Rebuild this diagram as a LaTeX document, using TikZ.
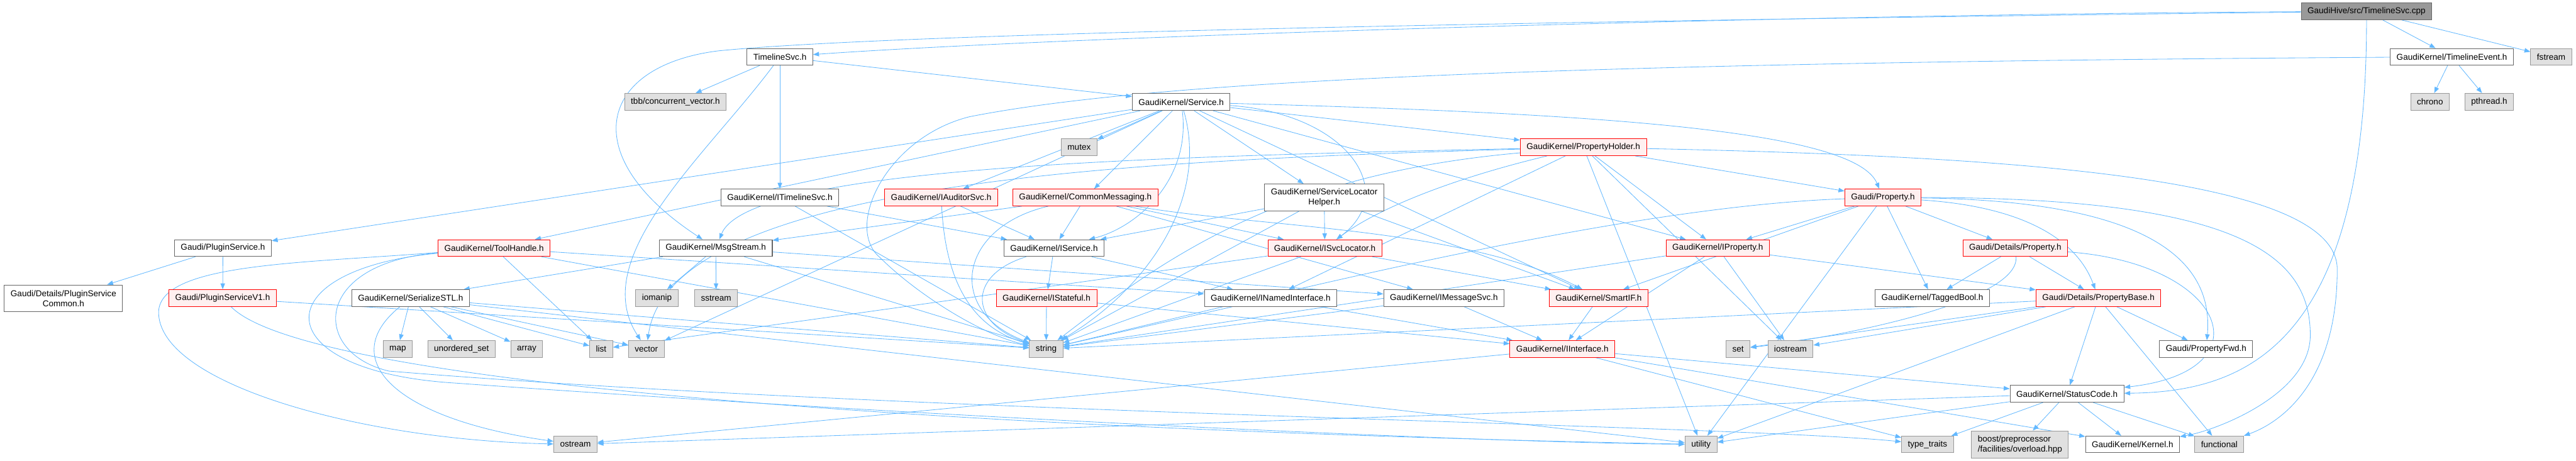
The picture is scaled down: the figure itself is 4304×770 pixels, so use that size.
\documentclass[tikz,border=0pt]{standalone}
\usepackage{fontspec}
\setmainfont{Liberation Sans}
\usepackage{tikz}
\usetikzlibrary{arrows.meta,backgrounds}
\definecolor{edgeblue}{HTML}{63B8FF}
\definecolor{truncred}{HTML}{FF0000}
\definecolor{truncfill}{HTML}{FFF0F0}
\definecolor{sysfill}{HTML}{E0E0E0}
\definecolor{sysdraw}{HTML}{999999}
\definecolor{srcfill}{HTML}{999999}
\definecolor{hdrdraw}{HTML}{666666}

\begin{document}
\begin{tikzpicture}[x=0.02cm, y=-0.02cm,
    font=\fontsize{8.1}{9.5}\selectfont,
    box/.style={draw=hdrdraw, fill=white, line width=0.6pt, minimum height=0.56cm, inner xsep=0.21cm, inner ysep=0pt},
    hdr/.style={box},
    trunc/.style={box, draw=truncred, fill=truncfill},
    sys/.style={box, draw=sysdraw, fill=sysfill},
    src/.style={box, fill=srcfill},
    twoline/.style={align=center, minimum height=0.9cm},
    dep/.style={draw=edgeblue, line width=0.5pt, -{Triangle[length=0.2cm, width=0.15cm]}}]
\useasboundingbox (0,0) rectangle (4304,770);

% top rows
\node[src] (cpp) at (3954,19) {GaudiHive/src/TimelineSvc.cpp};
\node[hdr] (tlevent) at (4096.5,95) {GaudiKernel/TimelineEvent.h};
\node[sys] (fstream) at (4262.5,95) {fstream};
\node[sys] (chrono) at (4060,170) {chrono};
\node[sys] (pthread) at (4159,170) {pthread.h};
\node[hdr] (tlsvc) at (1303,95) {TimelineSvc.h};
\node[sys] (tbb) at (1128.5,170) {tbb/concurrent\_vector.h};
\node[hdr] (svc) at (1973.5,170.5) {GaudiKernel/Service.h};
\node[sys] (mutex) at (1803,246) {mutex};
\node[trunc] (pholder) at (2645.5,246) {GaudiKernel/PropertyHolder.h};

\node[hdr] (itlsvc) at (1303,330) {GaudiKernel/ITimelineSvc.h};
\node[trunc] (iaud) at (1572.5,330) {GaudiKernel/IAuditorSvc.h};
\node[trunc] (cmsg) at (1813.5,330) {GaudiKernel/CommonMessaging.h};
\node[hdr, twoline] (slhelp) at (2212.5,330) {GaudiKernel/ServiceLocator\\Helper.h};
\node[trunc] (gprop) at (3146,330) {Gaudi/Property.h};

\node[hdr] (plugin) at (372.5,414.5) {Gaudi/PluginService.h};
\node[trunc] (toolh) at (825.5,414.5) {GaudiKernel/ToolHandle.h};
\node[hdr] (msg) at (1196,414.5) {GaudiKernel/MsgStream.h};
\node[hdr] (isvc) at (1761,414.5) {GaudiKernel/IService.h};
\node[trunc] (isvcloc) at (2213.5,414.5) {GaudiKernel/ISvcLocator.h};
\node[trunc] (iprop) at (2870,414.5) {GaudiKernel/IProperty.h};
\node[trunc] (detprop) at (3367,414.5) {Gaudi/Details/Property.h};

\node[hdr, twoline] (pcommon) at (106,498.5) {Gaudi/Details/PluginService\\Common.h};
\node[trunc] (pv1) at (372,498) {Gaudi/PluginServiceV1.h};
\node[hdr] (serial) at (686,498) {GaudiKernel/SerializeSTL.h};
\node[sys] (iomanip) at (1097.5,498) {iomanip};
\node[sys] (sstream) at (1196.5,498) {sstream};
\node[trunc] (istate) at (1748.5,498) {GaudiKernel/IStateful.h};
\node[hdr] (inamed) at (2123,498) {GaudiKernel/INamedInterface.h};
\node[hdr] (imsg) at (2412.5,498) {GaudiKernel/IMessageSvc.h};
\node[trunc] (smartif) at (2671,498) {GaudiKernel/SmartIF.h};
\node[hdr] (tbool) at (3228.5,498) {GaudiKernel/TaggedBool.h};
\node[trunc] (pbase) at (3506,498) {Gaudi/Details/PropertyBase.h};

% bottom rows
\node[sys] (map) at (664.5,583) {map};
\node[sys] (uset) at (771,583) {unordered\_set};
\node[sys] (array) at (880,583) {array};
\node[sys] (list) at (1004.5,583) {list};
\node[sys] (vector) at (1080,583) {vector};
\node[sys] (string) at (1748,583) {string};
\node[trunc] (iiface) at (2610.5,583) {GaudiKernel/IInterface.h};
\node[sys] (set) at (2904,583) {set};
\node[sys] (iostream) at (2991.5,583) {iostream};
\node[hdr] (pfwd) at (3686,583) {Gaudi/PropertyFwd.h};
\node[hdr] (status) at (3453.5,658) {GaudiKernel/StatusCode.h};
\node[sys] (ostream) at (961.5,742.5) {ostream};
\node[sys] (utility) at (2842,742.5) {utility};
\node[sys] (ttraits) at (3220.5,742.5) {type\_traits};
\node[sys, twoline, align=left] (boost) at (3375,742.5) {boost/preprocessor\\/facilities/overload.hpp};
\node[hdr] (kernel) at (3563,742.5) {GaudiKernel/Kernel.h};
\node[sys] (functional) at (3708,742.5) {functional};

\begin{scope}[on background layer]
% straight includes
\foreach \a/\b in {cpp/tlevent, cpp/fstream, tlevent/chrono, tlevent/pthread,
    tlsvc/tbb, tlsvc/itlsvc, tlsvc/svc, itlsvc/isvc, itlsvc/string,
    svc/plugin, svc/toolh, svc/vector, svc/mutex, svc/iaud, svc/cmsg,
    svc/slhelp, svc/smartif, svc/pholder, svc/iprop,
    plugin/pcommon, plugin/pv1, pv1/string,
    toolh/inamed, toolh/string, toolh/list,
    msg/serial, msg/iomanip, msg/sstream, msg/string, msg/imsg,
    serial/map, serial/uset, serial/array, serial/list, serial/vector,
    serial/string, serial/utility,
    iaud/isvc, cmsg/msg, cmsg/isvc, cmsg/isvcloc, cmsg/imsg,
    isvc/istate, isvc/inamed, istate/string, istate/iiface,
    inamed/string, inamed/iiface,
    isvcloc/smartif, isvcloc/string, isvcloc/list,
    imsg/iiface, imsg/string, smartif/iiface,
    slhelp/isvcloc, slhelp/isvc, slhelp/string, slhelp/smartif,
    iiface/ostream, iiface/status, iiface/ttraits, iiface/kernel,
    pholder/inamed, pholder/utility, pholder/iprop, pholder/iostream, pholder/gprop,
    gprop/detprop, gprop/iprop, gprop/smartif, gprop/tbool, gprop/utility,
    detprop/tbool, detprop/pbase,
    iprop/iiface, iprop/string, iprop/iostream, iprop/pbase,
    pbase/string, pbase/set, pbase/iostream, pbase/utility, pbase/status,
    pbase/pfwd, pbase/functional,
    status/ostream, status/utility, status/ttraits, status/boost,
    status/kernel, status/functional}
  \draw[dep] (\a) -- (\b);

% routed includes
\draw[dep] (cpp) .. controls (3000,24) and (1800,60) .. (tlsvc);
\draw[dep] (cpp) .. controls (2600,35) and (1500,55) .. (1200,85)
    .. controls (1000,110) and (960,260) .. (msg);
\draw[dep] (cpp) .. controls (3954,580) and (3750,655) .. (status);
\draw[dep] (tlevent) .. controls (2500,105) and (1900,140) .. (1620,195)
    .. controls (1480,230) and (1410,380) .. (1470,430)
    .. controls (1530,490) and (1640,560) .. (string);
\draw[dep] (tlsvc) .. controls (1180,260) and (980,430) .. (vector);
\draw[dep] (svc) .. controls (1990,300) and (1900,380) .. (isvc);
\draw[dep] (svc) .. controls (2020,330) and (1920,480) .. (string);
\draw[dep] (svc) .. controls (2250,190) and (2340,320) .. (isvcloc);
\draw[dep] (svc) .. controls (2700,190) and (3100,220) .. (gprop);
\draw[dep] (iaud) .. controls (1578,430) and (1600,540) .. (string);
\draw[dep] (cmsg) .. controls (1600,380) and (1580,520) .. (string);
\draw[dep] (cmsg) .. controls (2100,380) and (2450,380) .. (smartif);
\draw[dep] (isvc) .. controls (1615,460) and (1620,540) .. (string);
\draw[dep] (pholder) .. controls (1900,262) and (1250,280) .. (msg);
\draw[dep] (pholder) .. controls (1900,268) and (1120,300) .. (vector);
\draw[dep] (pholder) .. controls (2150,290) and (1960,420) .. (string);
\draw[dep] (pholder) .. controls (2420,300) and (2300,350) .. (isvcloc);
\draw[dep] (pholder) .. controls (3400,262) and (3905,300) .. (3905,450)
    .. controls (3905,650) and (3800,710) .. (functional);
\draw[dep] (gprop) .. controls (3380,345) and (3470,400) .. (pbase);
\draw[dep] (gprop) .. controls (3560,335) and (3700,420) .. (pfwd);
\draw[dep] (gprop) .. controls (2700,345) and (2100,500) .. (string);
\draw[dep] (gprop) .. controls (3750,330) and (3860,430) .. (3860,560)
    .. controls (3860,660) and (3700,720) .. (kernel);
\draw[dep] (detprop) .. controls (3375,500) and (3100,560) .. (set);
\draw[dep] (detprop) .. controls (3720,440) and (3790,620) .. (status);
\draw[dep] (serial) .. controls (560,600) and (660,700) .. (ostream);
\draw[dep] (pv1) .. controls (520,650) and (1700,720) .. (utility);
\draw[dep] (toolh) .. controls (500,440) and (270,440) .. (265,520)
    .. controls (262,640) and (600,735) .. (ostream);
\draw[dep] (toolh) .. controls (440,450) and (440,620) .. (760,640)
    .. controls (1600,700) and (2500,740) .. (utility);
\draw[dep] (toolh) .. controls (520,440) and (520,590) .. (650,620)
    .. controls (1500,690) and (2900,710) .. (ttraits);
\end{scope}
\end{tikzpicture}
\end{document}
